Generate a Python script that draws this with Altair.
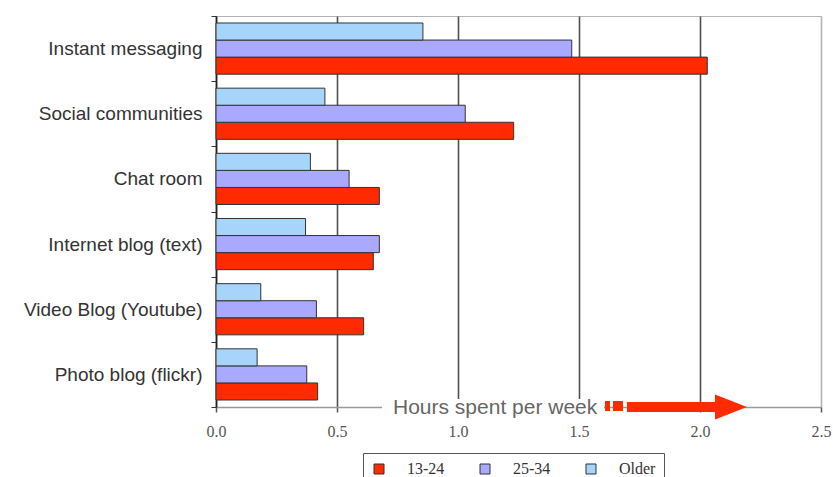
import altair as alt
import pandas as pd

# Average hours per week spent on each online activity, by age group
activities = [
    "Instant messaging",
    "Social communities",
    "Chat room",
    "Internet blog (text)",
    "Video Blog (Youtube)",
    "Photo blog (flickr)",
]
age_groups = ["13-24", "25-34", "Older"]
hours_13_24 = [2.03, 1.23, 0.675, 0.65, 0.61, 0.42]
hours_25_34 = [1.47, 1.03, 0.55, 0.675, 0.415, 0.375]
hours_older = [0.855, 0.45, 0.39, 0.37, 0.185, 0.17]
x_ticks = [0.0, 0.5, 1.0, 1.5, 2.0, 2.5]
group_colors = ["#FF2A00", "#A9A9FF", "#A6D4FA"]

rows = []
for i, act in enumerate(activities):
    for grp, vals in zip(age_groups, [hours_13_24, hours_25_34, hours_older]):
        rows.append({"activity": act, "age": grp, "hours": vals[i]})
df = pd.DataFrame(rows)

W, H = 605, 391

bars = alt.Chart(df).mark_bar(stroke="#333333", strokeWidth=1).encode(
    x=alt.X(
        "hours:Q",
        scale=alt.Scale(domain=[0, 2.5], nice=False),
        axis=alt.Axis(
            title=None,
            values=x_ticks,
            format=".1f",
            labelFlush=False,
            labelFont="Liberation Serif",
            labelFontSize=16,
            labelColor="#555555",
            labelPadding=11,
            domainColor="#999999",
            domainWidth=1.5,
            tickColor="#555555",
            tickSize=5,
            tickWidth=1.5,
            grid=True,
            gridColor={
                "condition": {"test": "datum.value >= 2.5", "value": "#b4b4b4"},
                "value": "#505050",
            },
            gridWidth=1.6,
        ),
    ),
    y=alt.Y(
        "activity:N",
        sort=activities,
        scale=alt.Scale(paddingInner=0, paddingOuter=0),
        axis=alt.Axis(
            title=None,
            tickBand="extent",
            labelFont="Liberation Sans",
            labelFontSize=19,
            labelColor="#333333",
            labelPadding=9,
            labelLimit=300,
            domainColor="#222222",
            domainWidth=1.5,
            tickColor="#333333",
            tickSize=5,
            grid=False,
        ),
    ),
    yOffset=alt.YOffset(
        "age:N",
        sort=["Older", "25-34", "13-24"],
        scale=alt.Scale(paddingInner=0, paddingOuter=0.41),
    ),
    color=alt.Color(
        "age:N",
        scale=alt.Scale(domain=age_groups, range=group_colors),
        legend=alt.Legend(
            title=None,
            orient="none",
            legendX=147,
            legendY=437,
            direction="horizontal",
            fillColor="white",
            strokeColor="#555555",
            padding=8,
            symbolType="square",
            symbolSize=100,
            symbolStrokeColor="#333333",
            symbolStrokeWidth=1,
            symbolOpacity=1,
            labelFont="Liberation Serif",
            labelFontSize=16,
            labelColor="#333333",
            labelOffset=20,
            columnPadding=32,
        ),
    ),
)

# Axis caption sitting on the x-axis line, followed by a red arrow
caption_bg = alt.Chart().mark_rect(color="white").encode(
    x=alt.value(166), x2=alt.value(388), y=alt.value(383), y2=alt.value(401)
)
caption = alt.Chart().mark_text(
    text="Hours spent per week",
    align="left",
    baseline="middle",
    font="Liberation Sans",
    fontSize=21,
    color="#666666",
).encode(x=alt.value(177), y=alt.value(392))

arrow_red = "#FF2A00"
dash1 = alt.Chart().mark_rect(color=arrow_red).encode(
    x=alt.value(389), x2=alt.value(394), y=alt.value(385), y2=alt.value(395)
)
dash2 = alt.Chart().mark_rect(color=arrow_red).encode(
    x=alt.value(397), x2=alt.value(407), y=alt.value(385), y2=alt.value(395)
)
shaft = alt.Chart().mark_rect(color=arrow_red).encode(
    x=alt.value(411), x2=alt.value(500), y=alt.value(386), y2=alt.value(396)
)
head = alt.Chart().mark_point(
    shape="M -1 -0.78 L 1 0 L -1 0.78 Z",
    size=1024,
    filled=True,
    color=arrow_red,
    opacity=1,
).encode(x=alt.value(515), y=alt.value(391))

chart = (
    alt.layer(bars, caption_bg, caption, dash1, dash2, shaft, head)
    .properties(
        width=W,
        height=H,
        autosize=alt.AutoSizeParams(type="none"),
        padding={"left": 216, "top": 16, "right": 12, "bottom": 70},
        background="white",
    )
    .configure_view(stroke="#b4b4b4", strokeWidth=1)
)

chart.save("out.html", embed_options={"renderer": "svg", "actions": False})
